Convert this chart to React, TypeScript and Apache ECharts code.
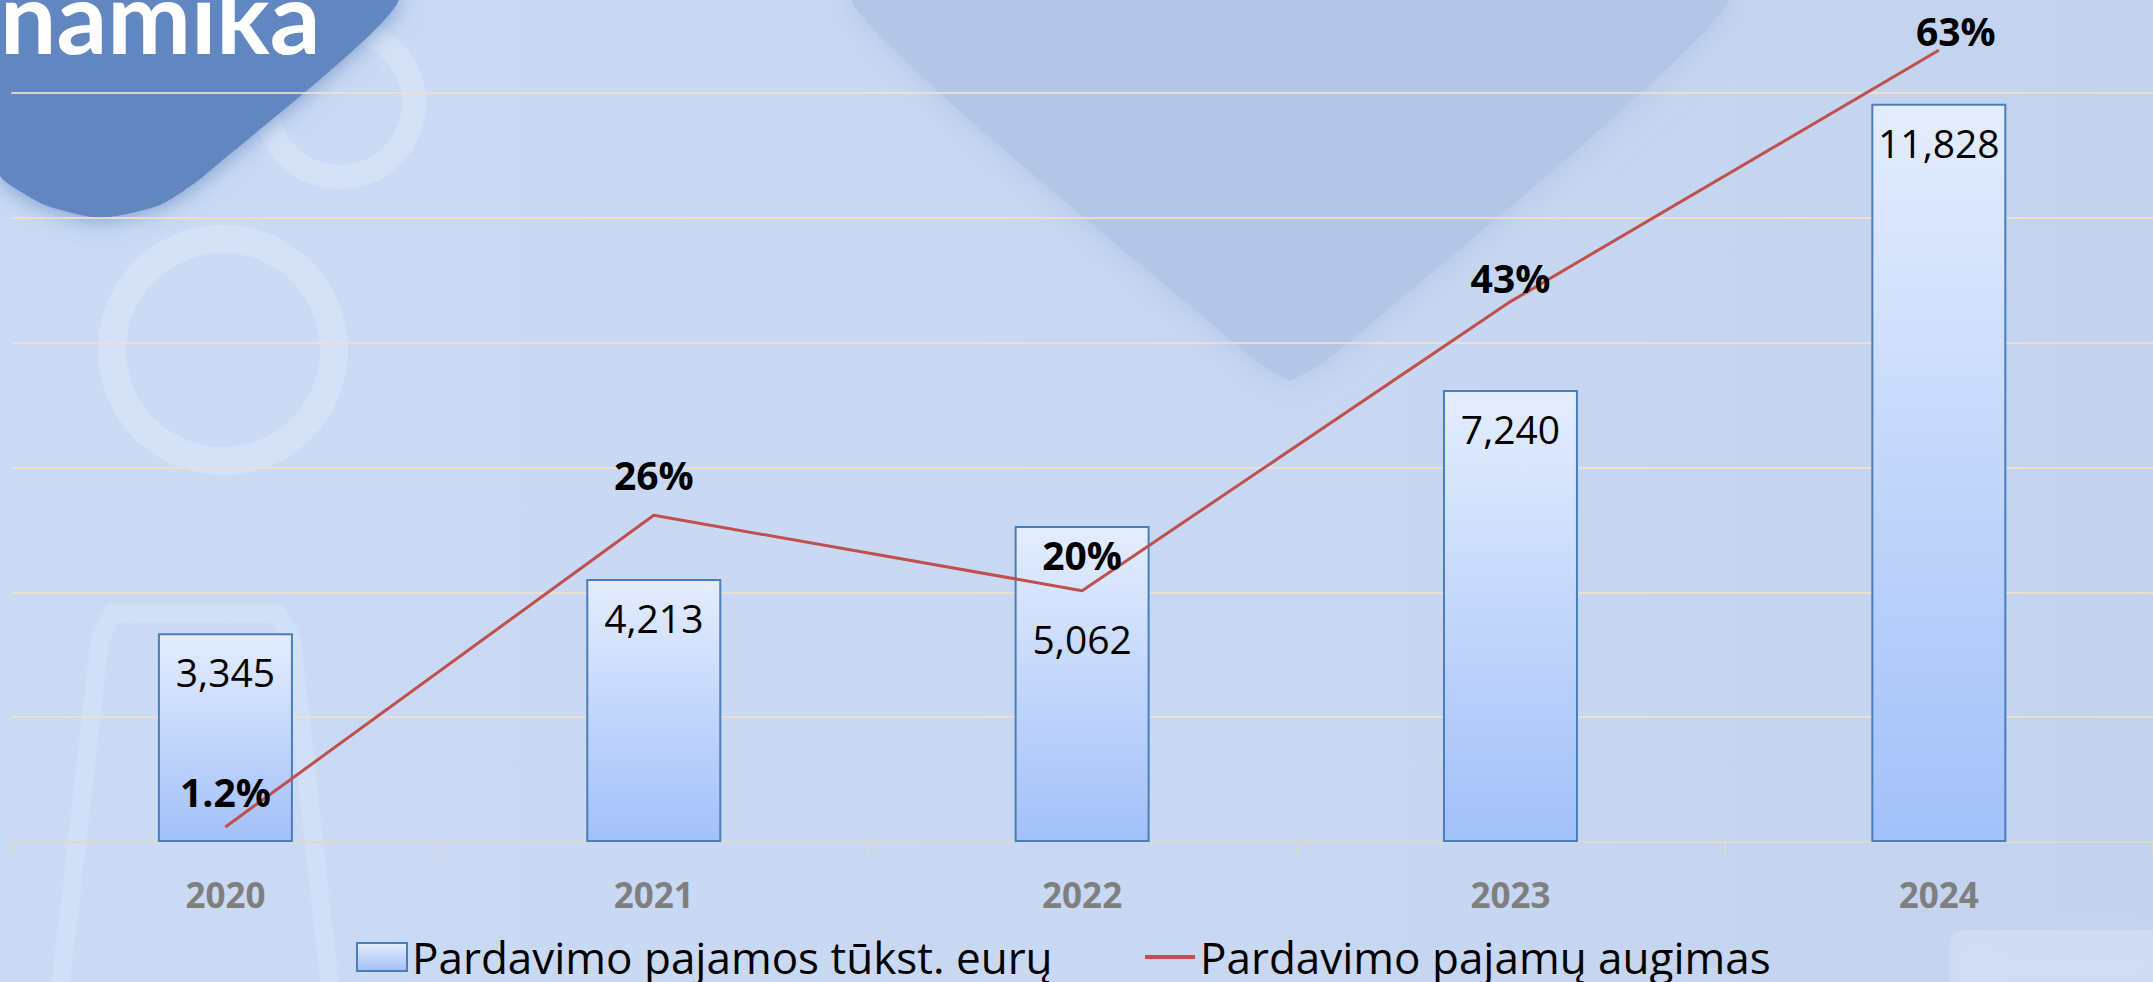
import React, { useEffect, useRef } from "react";
import * as echarts from "echarts";

const categories = ["2020", "2021", "2022", "2023", "2024"];
const revenue = [3345, 4213, 5062, 7240, 11828];
const growth = [1.2, 26, 20, 43, 63];
const revenueName = "Pardavimo pajamos tūkst. eurų";
const growthName = "Pardavimo pajamų augimas";
const brandText = "namika";

// label nudges (style only)
const growthLabelOffsets: [number, number][] = [
  [0, -10],
  [0, -16],
  [0, -11],
  [0, 1],
  [17, 5],
];
const revenueLabelOffsets: [number, number][] = [
  [0, 0],
  [0, 0],
  [0, 74],
  [0, 0],
  [0, 0],
];

const FONT = "'Open Sans', 'Noto Sans', sans-serif";

function buildOption(): echarts.EChartsOption {
  return {
    animation: false,
    backgroundColor: {
      type: "linear",
      x: 0,
      y: 0,
      x2: 1,
      y2: 0,
      colorStops: [
        { offset: 0, color: "#cadaf4" },
        { offset: 0.6, color: "#c8d8f2" },
        { offset: 1, color: "#c3d3ee" },
      ],
    },
    graphic: {
      elements: [
        {
          type: "polygon",
          z: -10,
          shape: {
            points: [
              [850, -10],
              [1730, -10],
              [1340, 350],
              [1290, 380],
              [1245, 352],
            ],
            smooth: 0.15,
          },
          style: {
            fill: "#b4c6e6",
            shadowBlur: 36,
            shadowColor: "rgba(170,190,225,0.8)",
          },
          silent: true,
        },
        {
          type: "ring",
          z: -9,
          shape: { cx: 340, cy: 103, r: 86, r0: 62 },
          style: {
            fill: "rgba(255,255,255,0.16)",
            shadowBlur: 18,
            shadowColor: "rgba(255,255,255,0.45)",
          },
          silent: true,
        },
        {
          type: "ring",
          z: -9,
          shape: { cx: 223, cy: 350, r: 125, r0: 97 },
          style: {
            fill: "rgba(255,255,255,0.16)",
            shadowBlur: 20,
            shadowColor: "rgba(255,255,255,0.45)",
          },
          silent: true,
        },
        {
          type: "polyline",
          z: -9,
          shape: {
            points: [
              [60, 990],
              [100, 640],
              [112, 614],
              [278, 614],
              [292, 640],
              [330, 990],
            ],
          },
          style: {
            stroke: "rgba(255,255,255,0.13)",
            lineWidth: 18,
            fill: "none",
            shadowBlur: 18,
            shadowColor: "rgba(255,255,255,0.35)",
          },
          silent: true,
        },
        {
          type: "rect",
          z: -9,
          shape: { x: 1950, y: 930, width: 220, height: 70, r: 14 },
          style: {
            fill: "rgba(255,255,255,0.14)",
            shadowBlur: 28,
            shadowColor: "rgba(255,255,255,0.45)",
          },
          silent: true,
        },
        {
          type: "polygon",
          z: -8,
          shape: {
            points: [
              [0, -5],
              [398, -5],
              [205, 175],
              [160, 205],
              [100, 218],
              [45, 205],
              [10, 185],
              [0, 175],
            ],
            smooth: 0.2,
          },
          style: {
            fill: "#6286bf",
            shadowBlur: 24,
            shadowColor: "rgba(98,134,191,0.85)",
          },
          silent: true,
        },
        {
          type: "text",
          z: -7,
          x: 0,
          y: 15,
          style: {
            text: brandText,
            font: "bold 100px Lato, 'Open Sans', sans-serif",
            fill: "#ffffff",
            verticalAlign: "middle",
            align: "left",
          },
          silent: true,
        },
      ],
    },
    grid: {
      left: 11.25,
      right: -10.75,
      top: 93,
      bottom: 140,
      containLabel: false,
    },
    legend: [
      {
        data: [{ name: revenueName, icon: "rect" }],
        left: 356,
        top: 935,
        padding: 0,
        itemWidth: 50,
        itemHeight: 28,
        itemGap: 0,
        textStyle: { fontSize: 44, lineHeight: 44, color: "#000", fontFamily: FONT },
      },
      {
        data: [{ name: growthName, icon: "rect" }],
        left: 1145,
        top: 935,
        padding: 0,
        itemWidth: 50,
        itemHeight: 4,
        itemGap: 0,
        itemStyle: { color: "#c0504d", borderWidth: 0 },
        textStyle: { fontSize: 44, lineHeight: 44, color: "#000", fontFamily: FONT },
      },
    ],
    xAxis: {
      type: "category",
      data: categories,
      boundaryGap: true,
      z: 1,
      axisLine: { lineStyle: { color: "#dcd9d0", width: 2 } },
      axisTick: { show: true, length: 12, lineStyle: { color: "#dcd9d0", width: 2 } },
      axisLabel: {
        color: "#7f7f7f",
        fontWeight: "bold",
        fontSize: 35,
        fontFamily: FONT,
        margin: 35,
      },
    },
    yAxis: [
      {
        type: "value",
        min: 0,
        max: 12000,
        interval: 2000,
        z: 1,
        axisLabel: { show: false },
        axisLine: { show: false },
        axisTick: { show: false },
        splitLine: { show: true, lineStyle: { color: "rgba(236,226,206,0.85)", width: 2 } },
      },
      {
        type: "value",
        min: 0,
        max: 59.6,
        show: false,
        splitLine: { show: false },
      },
    ],
    series: [
      {
        name: revenueName,
        type: "bar",
        data: revenue.map((v, i) => ({
          value: v,
          label: { offset: revenueLabelOffsets[i] },
        })),
        barWidth: 135,
        yAxisIndex: 0,
        itemStyle: {
          color: {
            type: "linear",
            x: 0,
            y: 0,
            x2: 0,
            y2: 1,
            colorStops: [
              { offset: 0, color: "#e4edfd" },
              { offset: 1, color: "#a2c0f9" },
            ],
          },
          borderColor: "#4a7ebb",
          borderWidth: 2,
        },
        label: {
          show: true,
          position: "insideTop",
          distance: 19,
          fontSize: 39,
          fontFamily: FONT,
          color: "#000",
          formatter: (p: any) => Number(p.value).toLocaleString("en-US"),
        },
      },
      {
        name: growthName,
        type: "line",
        yAxisIndex: 1,
        clip: false,
        symbol: "circle",
        symbolSize: 1,
        showSymbol: true,
        itemStyle: { color: "#c0504d" },
        lineStyle: { color: "#c0504d", width: 3 },
        data: growth.map((v, i) => ({
          value: v,
          label: { offset: growthLabelOffsets[i] },
        })),
        label: {
          show: true,
          position: "top",
          distance: 5,
          fontSize: 39,
          fontWeight: "bold",
          fontFamily: FONT,
          color: "#000",
          formatter: (p: any) => `${p.value}%`,
        },
      },
    ],
  } as echarts.EChartsOption;
}

export default function App() {
  const ref = useRef<HTMLDivElement>(null);
  useEffect(() => {
    document.body.style.margin = "0";
    if (!ref.current) return;
    const chart = echarts.init(ref.current, null, { renderer: "svg" });
    chart.setOption(buildOption());
    return () => chart.dispose();
  }, []);
  return <div ref={ref} style={{ width: 2153, height: 982 }} />;
}
